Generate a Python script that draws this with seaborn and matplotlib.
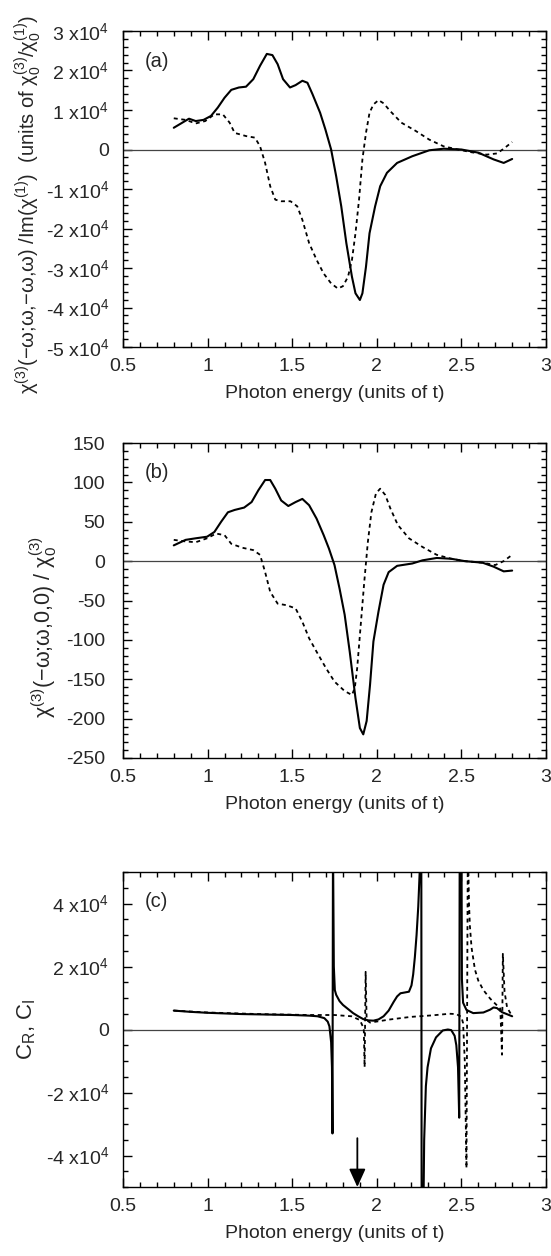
import numpy as np
import pandas as pd
import matplotlib
matplotlib.use("Agg")
import matplotlib.pyplot as plt
from matplotlib.ticker import MultipleLocator
import seaborn as sns

# ---------------- data ----------------
# panel (a)  (values in units of 1e4)
a_solid_x = [0.80, 0.89, 0.93, 0.976, 1.02, 1.06, 1.10, 1.14, 1.185, 1.227, 1.27, 1.31, 1.35, 1.383,
             1.414, 1.446, 1.487, 1.52, 1.56, 1.59, 1.62, 1.665, 1.696, 1.73, 1.76, 1.79, 1.82,
             1.853, 1.874, 1.90, 1.915, 1.936, 1.957, 1.99, 2.02, 2.06, 2.12, 2.21, 2.31, 2.395,
             2.50, 2.60, 2.69, 2.75, 2.80]
a_solid_y = [0.55, 0.78, 0.72, 0.75, 0.85, 1.06, 1.31, 1.51, 1.57, 1.59, 1.78, 2.12, 2.42, 2.39,
             2.16, 1.78, 1.57, 1.63, 1.74, 1.69, 1.40, 0.93, 0.51, 0.00, -0.68, -1.44, -2.37,
             -3.22, -3.64, -3.81, -3.64, -2.97, -2.12, -1.44, -0.93, -0.59, -0.34, -0.17, -0.02, 0.02,
             0.00, -0.08, -0.25, -0.34, -0.24]
a_dash_x = [0.80, 0.87, 0.93, 0.986, 1.04, 1.09, 1.13, 1.16, 1.227, 1.28, 1.31, 1.34, 1.37, 1.40,
            1.435, 1.49, 1.53, 1.56, 1.60, 1.645, 1.686, 1.73, 1.77, 1.80, 1.83, 1.853, 1.874,
            1.895, 1.915, 1.936, 1.957, 1.98, 2.01, 2.04, 2.08, 2.145, 2.23, 2.31, 2.395, 2.48,
            2.56, 2.65, 2.71, 2.75, 2.80]
a_dash_y = [0.79, 0.75, 0.66, 0.72, 0.89, 0.89, 0.68, 0.42, 0.34, 0.30, 0.08, -0.34, -0.93, -1.27,
            -1.31, -1.31, -1.44, -1.78, -2.37, -2.80, -3.14, -3.39, -3.52, -3.46, -3.22, -2.80, -2.12,
            -1.27, -0.25, 0.42, 0.93, 1.14, 1.25, 1.17, 0.97, 0.68, 0.47, 0.25, 0.08, 0.00,
            -0.07, -0.13, -0.10, 0.02, 0.19]

# panel (b)
b_solid_x = [0.80, 0.87, 0.93, 0.997, 1.04, 1.08, 1.12, 1.16, 1.216, 1.26, 1.30, 1.34, 1.37, 1.40,
             1.435, 1.477, 1.52, 1.56, 1.60, 1.644, 1.686, 1.717, 1.75, 1.78, 1.81, 1.84, 1.874,
             1.90, 1.92, 1.94, 1.96, 1.98, 2.01, 2.04, 2.07, 2.12, 2.21, 2.27, 2.354, 2.44, 2.52,
             2.625, 2.69, 2.75, 2.80]
b_solid_y = [20, 27, 29, 31, 37, 50, 62, 65, 68, 75, 90, 103, 103, 92,
             77, 70, 75, 79, 71, 54, 33, 16, -5, -35, -68, -115, -174,
             -212, -220, -203, -157, -102, -64, -30, -14, -6, -3, 1, 4, 3, 0,
             -2, -7, -13, -12]
b_dash_x = [0.80, 0.87, 0.93, 0.997, 1.05, 1.10, 1.14, 1.205, 1.27, 1.31, 1.34, 1.37, 1.414, 1.467,
            1.52, 1.56, 1.60, 1.644, 1.70, 1.75, 1.81, 1.853, 1.87, 1.884, 1.905, 1.926, 1.947,
            1.968, 1.995, 2.02, 2.05, 2.08, 2.124, 2.19, 2.27, 2.354, 2.44, 2.52, 2.625, 2.70,
            2.75, 2.80]
b_dash_y = [27, 25, 24, 29, 35, 33, 22, 17, 14, 8, -14, -39, -54, -56,
            -60, -77, -98, -115, -136, -153, -165, -170, -161, -136, -81, -26, 24,
            62, 86, 92, 84, 67, 46, 29, 18, 8, 3, 0, -2, -5,
            0, 8]

# panel (c)  (values in units of 1e4)
c_solid_x = [0.80, 0.90, 1.00, 1.10, 1.20, 1.30, 1.40, 1.50, 1.60, 1.65, 1.69, 1.71, 1.72, 1.73,
             1.735, 1.738, 1.741, 1.746, 1.752, 1.76, 1.78, 1.80, 1.83, 1.86, 1.89, 1.92, 1.95,
             1.98, 2.01, 2.04, 2.07, 2.10, 2.12, 2.14, 2.17, 2.19, 2.205, 2.215, 2.225, 2.235,
             2.245, 2.255, 2.262, 2.266, 2.270, 2.276, 2.28, 2.29, 2.30, 2.32, 2.35, 2.39, 2.42,
             2.44, 2.46, 2.47, 2.48, 2.487, 2.492, 2.497, 2.503, 2.51, 2.53, 2.57, 2.63, 2.67,
             2.69, 2.71, 2.74, 2.80]
c_solid_y = [0.60, 0.56, 0.53, 0.51, 0.49, 0.48, 0.47, 0.46, 0.44, 0.42, 0.36, 0.25, 0.10, -0.40,
             -1.20, -3.30, 6.00, 2.00, 1.25, 1.10, 0.90, 0.78, 0.65, 0.52, 0.42, 0.33, 0.29,
             0.28, 0.32, 0.42, 0.60, 0.88, 1.05, 1.15, 1.18, 1.20, 1.40, 1.75, 2.30, 3.00,
             3.90, 5.20, 12.0, -12.0, -12.0, -5.50, -3.50, -1.80, -1.20, -0.60, -0.25, -0.03, 0.00,
             -0.02, -0.20, -0.50, -1.20, -2.80, 12.0, 12.0, 1.60, 0.85, 0.62, 0.52, 0.54, 0.63,
             0.70, 0.68, 0.55, 0.42]
c_dash_x = [0.80, 1.00, 1.30, 1.60, 1.75, 1.85, 1.90, 1.923, 1.928, 1.934, 1.940, 1.96, 2.08,
            2.20, 2.33, 2.43, 2.47, 2.50, 2.51, 2.52, 2.530, 2.538, 2.545, 2.55, 2.56, 2.58,
            2.60, 2.63, 2.67, 2.70, 2.73, 2.740, 2.745, 2.755, 2.77, 2.80]
c_dash_y = [0.60, 0.54, 0.49, 0.46, 0.46, 0.42, 0.30, 0.03, -1.19, 1.83, 0.30, 0.22, 0.32,
            0.40, 0.45, 0.50, 0.49, 0.40, 0.20, -1.00, -4.40, 6.00, 4.00, 3.30, 2.60, 1.90,
            1.55, 1.25, 0.98, 0.82, 0.66, -0.80, 2.40, 1.20, 0.70, 0.42]

a_yticks = [-5e4, -4e4, -3e4, -2e4, -1e4, 0, 1e4, 2e4, 3e4]
a_ylabels = ['-5 x10$^4$', '-4 x10$^4$', '-3 x10$^4$', '-2 x10$^4$', '-1 x10$^4$', '0',
             '1 x10$^4$', '2 x10$^4$', '3 x10$^4$']
b_yticks = [-250, -200, -150, -100, -50, 0, 50, 100, 150]
b_ylabels = ['-250', '-200', '-150', '-100', '-50', '0', '50', '100', '150']
c_yticks = [-4e4, -2e4, 0, 2e4, 4e4]
c_ylabels = ['-4 x10$^4$', '-2 x10$^4$', '0', '2 x10$^4$', '4 x10$^4$']
xticks = [0.5, 1, 1.5, 2, 2.5, 3]
xlabels = ['0.5', '1', '1.5', '2', '2.5', '3']

arrow_x = 1.885
arrow_y_start = -3.45e4
arrow_y_end = -5e4

xlabel = 'Photon energy (units of t)'
ylabel_a = 'χ$^{(3)}$(−ω;ω,−ω,ω) /Im(χ$^{(1)}$)  (units of χ$^{(3)}_{0}$/χ$^{(1)}_{0}$)'
ylabel_b = 'χ$^{(3)}$(−ω;ω,0,0) / χ$^{(3)}_{0}$'
ylabel_c = 'C$_{R}$, C$_{I}$'

# ---------------- style ----------------
sns.set_style("ticks")
plt.rcParams['font.family'] = ['Liberation Sans', 'DejaVu Sans']
plt.rcParams['mathtext.default'] = 'regular'

W, H = 551, 1256
fig = plt.figure(figsize=(W / 100, H / 100), dpi=100)


def frac_axes(left, right, top, bottom):
    return fig.add_axes([left / W, 1 - bottom / H, (right - left) / W, (bottom - top) / H])


ax_a = frac_axes(123, 546, 31, 347)
ax_b = frac_axes(123, 546, 443, 758)
ax_c = frac_axes(123, 546, 872, 1187)

solid_kw = dict(color='black', lw=1.5, estimator=None, sort=False)
dash_kw = dict(color='black', lw=1.3, estimator=None, sort=False, linestyle=(0, (2.2, 2.0)))

sns.lineplot(x=a_solid_x, y=np.array(a_solid_y) * 1e4, ax=ax_a, **solid_kw)
sns.lineplot(x=a_dash_x, y=np.array(a_dash_y) * 1e4, ax=ax_a, **dash_kw)
sns.lineplot(x=b_solid_x, y=b_solid_y, ax=ax_b, **solid_kw)
sns.lineplot(x=b_dash_x, y=b_dash_y, ax=ax_b, **dash_kw)
sns.lineplot(x=c_solid_x, y=np.array(c_solid_y) * 1e4, ax=ax_c, **solid_kw)
sns.lineplot(x=c_dash_x, y=np.array(c_dash_y) * 1e4, ax=ax_c, **dash_kw)

settings = [
    (ax_a, (-5e4, 3e4), a_yticks, a_ylabels, 2e3, '(a)', ylabel_a, -0.225, 0.45, 10, 14.5),
    (ax_b, (-250, 150), b_yticks, b_ylabels, 10, '(b)', ylabel_b, -0.19, 0.416, 13, 15.5),
    (ax_c, (-5e4, 5e4), c_yticks, c_ylabels, 5e3, '(c)', ylabel_c, -0.228, 0.5, 10, 16),
]
for ax, ylim, yt, yl, ymin, tag, ylab, lx, ly, ypad, lsize in settings:
    ax.axhline(0, color='#444444', lw=0.9, zorder=1)
    ax.set_xlim(0.5, 3)
    ax.set_ylim(*ylim)
    ax.set_xticks(xticks, xlabels)
    ax.set_yticks(yt, yl)
    ax.xaxis.set_minor_locator(MultipleLocator(0.1))
    ax.yaxis.set_minor_locator(MultipleLocator(ymin))
    ax.tick_params(which='both', direction='in', top=True, right=True, width=1.0, color='black')
    ax.tick_params(which='major', length=6.5)
    ax.tick_params(which='minor', length=3.5)
    ax.tick_params(axis='x', which='major', pad=8, labelsize=14)
    ax.tick_params(axis='y', which='major', pad=ypad, labelsize=14)
    for s in ax.spines.values():
        s.set_linewidth(1.0)
        s.set_color('black')
    ax.set_xlabel(xlabel, fontsize=14, labelpad=7)
    ax.set_ylabel(ylab, fontsize=lsize)
    ax.yaxis.set_label_coords(lx, ly)
    ax.yaxis.label.set_verticalalignment('center')
    ax.text(0.052, 0.905, tag, transform=ax.transAxes, fontsize=14.5, ha='left', va='center')

ax_c.annotate('', xy=(arrow_x, arrow_y_end), xytext=(arrow_x, arrow_y_start),
              arrowprops=dict(arrowstyle='-|>,head_length=0.55,head_width=0.25', color='black',
                              lw=1.3, shrinkA=0, shrinkB=0, mutation_scale=20),
              annotation_clip=False)

fig.savefig('out.png', dpi=100)
